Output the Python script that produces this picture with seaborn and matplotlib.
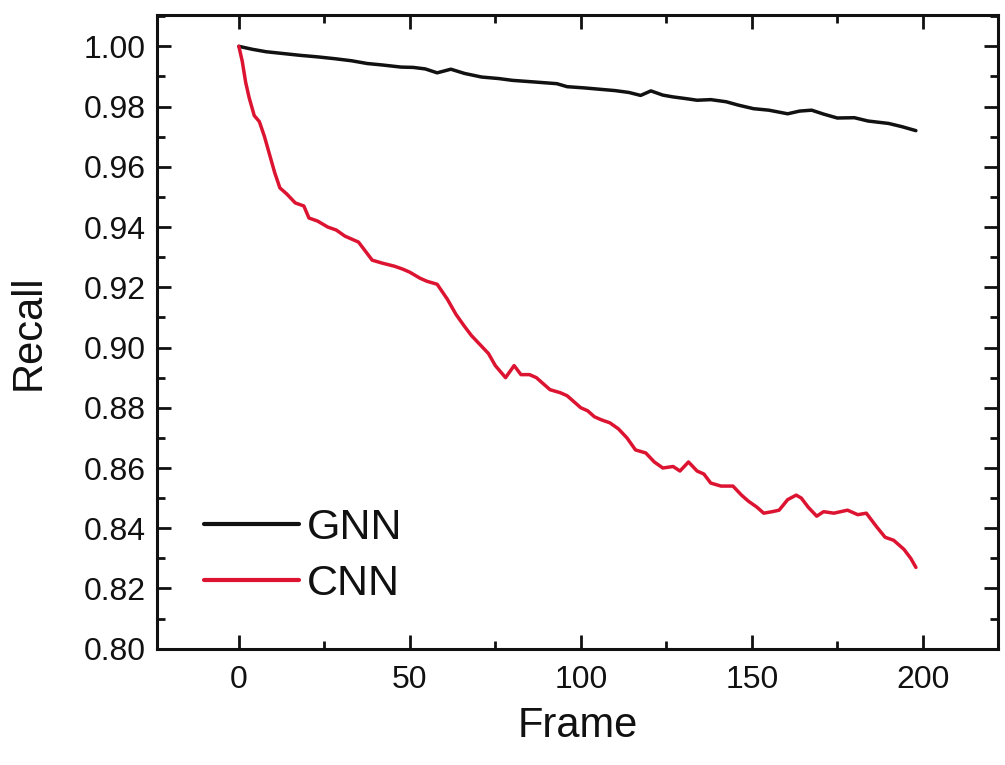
import numpy as np
import pandas as pd
import matplotlib
matplotlib.use("Agg")
import matplotlib.pyplot as plt
from matplotlib.ticker import MultipleLocator, FormatStrFormatter
import seaborn as sns

# Recall per frame for the two trackers
gnn_frame = [0, 4, 8, 13, 18, 23, 28, 33, 37.5, 42, 47.5, 51, 54.5, 58, 62, 66, 71, 76,
             80, 86, 93, 96, 101, 105, 110, 114, 117.5, 120.5, 124, 127, 131, 134, 138,
             142.5, 146, 150.5, 155, 160.5, 164, 167.5, 171, 175, 180, 184, 190, 194, 198]
gnn_recall = [1.000, 0.9990, 0.9982, 0.9976, 0.9970, 0.9965, 0.9959, 0.9952, 0.9943,
              0.9938, 0.9931, 0.9930, 0.9925, 0.9912, 0.9924, 0.9910, 0.9898, 0.9893,
              0.9887, 0.9882, 0.9876, 0.9866, 0.9862, 0.9858, 0.9853, 0.9847, 0.9837,
              0.9852, 0.9838, 0.9832, 0.9826, 0.9821, 0.9823, 0.9816, 0.9805, 0.9793,
              0.9788, 0.9776, 0.9785, 0.9788, 0.9775, 0.9762, 0.9763, 0.9752, 0.9744,
              0.9733, 0.9720]

cnn_frame = [0, 1, 2, 3, 4.5, 6, 7.5, 9, 10.5, 12, 14, 16.5, 19, 20.5, 23, 26, 28.5, 31,
             33, 35, 37, 39, 42, 45.5, 48, 50, 53, 55, 58, 61, 63.5, 66, 68, 70.5, 73, 75,
             78, 80.5, 82.5, 85, 87, 89, 91, 94, 96, 98, 100, 102, 104, 106, 108.5, 111,
             113.5, 116, 119, 121.5, 124, 127, 129, 131.5, 134, 136, 138, 141, 144.5, 147,
             149, 151.5, 153.5, 156, 158, 160.5, 163, 164.5, 166.5, 169, 171, 174, 178,
             181, 183.5, 186.5, 189, 191.5, 194.5, 196.5, 198]
cnn_recall = [1.000, 0.995, 0.988, 0.983, 0.977, 0.975, 0.970, 0.964, 0.958, 0.953, 0.951,
              0.948, 0.947, 0.943, 0.942, 0.940, 0.939, 0.937, 0.936, 0.935, 0.932, 0.929,
              0.928, 0.927, 0.926, 0.925, 0.923, 0.922, 0.921, 0.916, 0.911, 0.907, 0.904,
              0.901, 0.898, 0.894, 0.890, 0.894, 0.891, 0.891, 0.890, 0.888, 0.886, 0.885,
              0.884, 0.882, 0.880, 0.879, 0.877, 0.876, 0.875, 0.873, 0.870, 0.866, 0.865,
              0.862, 0.860, 0.8605, 0.859, 0.862, 0.859, 0.858, 0.855, 0.854, 0.854, 0.851,
              0.849, 0.847, 0.845, 0.8455, 0.846, 0.8495, 0.851, 0.850, 0.847, 0.844,
              0.8455, 0.845, 0.846, 0.8445, 0.845, 0.8405, 0.837, 0.836, 0.833, 0.830,
              0.827]

series_names = ["GNN", "CNN"]
series_colors = ["#111111", "#dc1431"]

df = pd.concat([
    pd.DataFrame({"Frame": gnn_frame, "Recall": gnn_recall, "Model": "GNN"}),
    pd.DataFrame({"Frame": cnn_frame, "Recall": cnn_recall, "Model": "CNN"}),
], ignore_index=True)

sns.set_style("ticks")
plt.rcParams["font.family"] = ["Liberation Sans", "DejaVu Sans"]
plt.rcParams["text.color"] = "#111111"
plt.rcParams["axes.labelcolor"] = "#111111"
plt.rcParams["xtick.color"] = "#111111"
plt.rcParams["ytick.color"] = "#111111"

fig = plt.figure(figsize=(10.05, 7.65), dpi=100)
ax = fig.add_axes([0.156, 0.152, 0.837, 0.828])

sns.lineplot(data=df, x="Frame", y="Recall", hue="Model", hue_order=series_names,
             palette=dict(zip(series_names, series_colors)), linewidth=2.5,
             estimator=None, sort=False, ax=ax)

ax.set_xlim(-24, 222)
ax.set_ylim(0.80, 1.0103)
ax.xaxis.set_major_locator(MultipleLocator(50))
ax.xaxis.set_minor_locator(MultipleLocator(25))
ax.yaxis.set_major_locator(MultipleLocator(0.02))
ax.yaxis.set_minor_locator(MultipleLocator(0.01))
ax.yaxis.set_major_formatter(FormatStrFormatter("%.2f"))

ax.tick_params(which="both", direction="in", top=True, right=True, width=2.0)
ax.tick_params(which="major", length=10, labelsize=23)
ax.tick_params(axis="x", which="major", pad=12)
ax.tick_params(axis="y", which="major", pad=8)
ax.tick_params(which="minor", length=6)
for s in ax.spines.values():
    s.set_linewidth(2.2)
    s.set_color("#111111")

ax.set_xlabel("Frame", fontsize=30, labelpad=8)
ax.set_ylabel("Recall", fontsize=30, labelpad=25)

leg = ax.legend(loc="upper left", bbox_to_anchor=(0.056, 0.222), frameon=False,
                fontsize=31, handlelength=2.2, handletextpad=0.2, labelspacing=0.38,
                borderpad=0, borderaxespad=0)
for line in leg.get_lines():
    line.set_linewidth(3.0)

fig.savefig("out.png", dpi=100)
